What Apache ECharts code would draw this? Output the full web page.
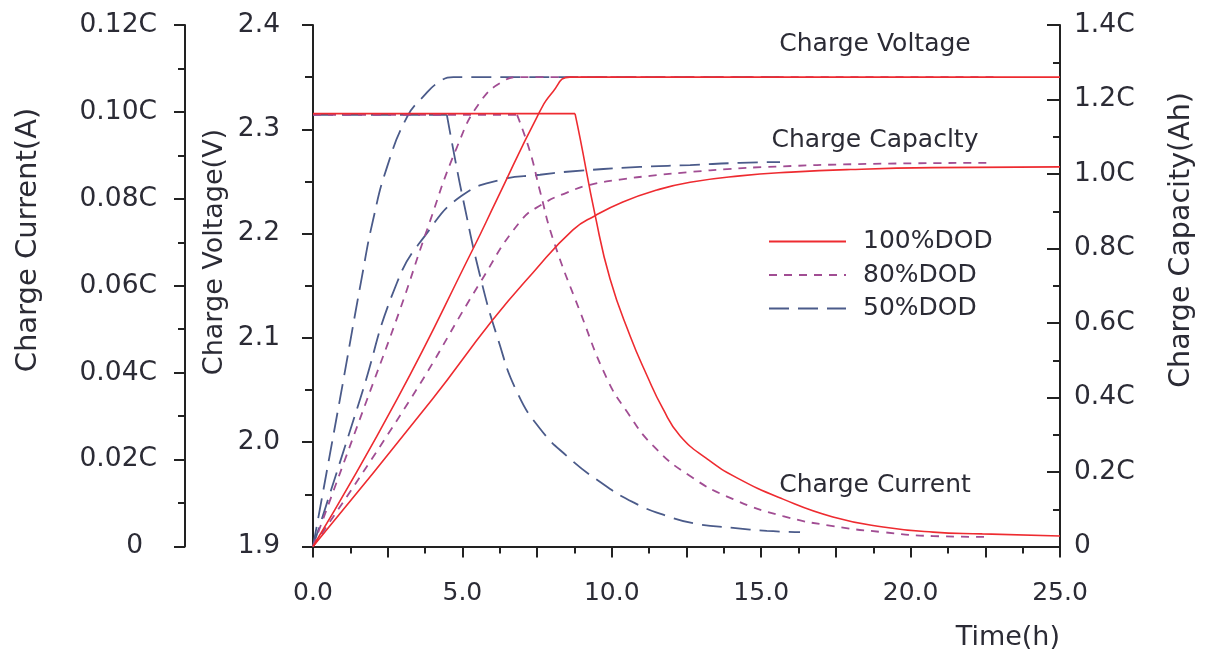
<!DOCTYPE html>
<html><head><meta charset="utf-8">
<script src="https://cdn.jsdelivr.net/npm/echarts@6/dist/echarts.min.js"></script>
<style>html,body{margin:0;padding:0;background:#fff}#c{width:1208px;height:659px}</style>
</head><body><div id="c"></div>
<script>
// ---- data ----
const seriesNames = ['100%DOD', '80%DOD', '50%DOD'];
const annotations = ['Charge Voltage', 'Charge Capaclty', 'Charge Current'];
const axisNames = ['Charge Current(A)', 'Charge Voltage(V)', 'Charge Capacity(Ah)', 'Time(h)'];

// Charge voltage (V) vs time (h)
const voltage100 = [[0,1.9],[2.81,2.041],[5.35,2.185],[6.16,2.233],[7.5,2.312],[8.03,2.336],[8.6,2.35],[25,2.35]];
const voltage80  = [[0,1.9],[1.81,2.041],[2.91,2.127],[3.82,2.204],[4.82,2.283],[5.59,2.326],[6.36,2.346],[6.9,2.35],[22.8,2.35]];
const voltage50  = [[0,1.9],[0.9,2.041],[1.64,2.159],[2.01,2.213],[2.48,2.264],[3.15,2.312],[3.68,2.331],[4.25,2.346],[4.7,2.35],[15.6,2.35]];

// Charge current (C) vs time (h): constant part and taper part
const current100Const = [[0,0.0996],[8.77,0.0996]];
const current100 = [[8.77,0.0996],[8.94,0.0939],[9.44,0.0763],[9.94,0.0616],[10.61,0.0485],[11.18,0.0393],[11.71,0.0317],[12.28,0.0255],[13.18,0.0202],[14.19,0.0158],[15.73,0.0109],[17.4,0.0068],[19.08,0.0045],[20.75,0.0033],[22.4,0.0029],[25,0.0024]];
const current80Const = [[0,0.0993],[6.83,0.0993]];
const current80 = [[6.83,0.0993],[7.26,0.0909],[7.6,0.0817],[8.03,0.0708],[8.94,0.054],[9.84,0.0386],[10.51,0.031],[11.38,0.0232],[12.62,0.0162],[14.06,0.0109],[15.73,0.007],[17.4,0.0047],[19.08,0.0033],[20.75,0.0024],[22.6,0.0022]];
const current50Const = [[0,0.0993],[4.48,0.0993]];
const current50 = [[4.48,0.0993],[4.75,0.0893],[5.02,0.08],[5.59,0.0623],[6.2,0.0475],[6.83,0.0355],[7.6,0.0271],[8.5,0.0208],[9.6,0.0149],[10.71,0.0102],[11.85,0.007],[12.85,0.0052],[14.06,0.0043],[15.19,0.0036],[16.3,0.0033]];

// Charge capacity (C) vs time (h)
const capacity100 = [[0,0],[3.98,0.394],[5.99,0.606],[7.36,0.735],[8.7,0.85],[9.44,0.888],[10.37,0.925],[11.51,0.957],[12.62,0.978],[14.29,0.995],[16,1.005],[18,1.012],[20.75,1.017],[25,1.019]];
const capacity80  = [[0,0],[3.25,0.394],[5.59,0.708],[6.93,0.872],[7.7,0.92],[8.5,0.95],[9.27,0.971],[10.27,0.985],[11.28,0.995],[12.72,1.006],[13.86,1.013],[15.19,1.019],[18.54,1.027],[22.76,1.03]];
const capacity50  = [[0,0],[1.57,0.394],[2.81,0.708],[3.82,0.842],[4.95,0.94],[6.26,0.984],[7.6,0.998],[8.5,1.006],[10.94,1.019],[12.62,1.024],[14.29,1.03],[15.63,1.032]];

// ---- styles ----
const FONT = 'DejaVu Sans';
const TXT = '#2b2b35';
const AX = '#222222';
const colors = ['#ee2b30', '#a14d93', '#4b5b8a'];
const dashTypes = ['solid', [8, 7], [20, 9]];
const widths = [1.6, 1.8, 1.8];

function line(idx, data, yAxisIndex, smooth) {
  return {
    name: seriesNames[idx], type: 'line', data: data, yAxisIndex: yAxisIndex,
    smooth: smooth ? 0.5 : false, symbol: 'none', showSymbol: false,
    lineStyle: { color: colors[idx], width: widths[idx], type: dashTypes[idx] },
    itemStyle: { color: colors[idx] }, emphasis: { disabled: true },
    z: 3 - idx
  };
}

const series = [
  line(0, voltage100, 0, true), line(0, current100Const, 1, false), line(0, current100, 1, true), line(0, capacity100, 2, true),
  line(1, voltage80, 0, true), line(1, current80Const, 1, false), line(1, current80, 1, true), line(1, capacity80, 2, true),
  line(2, voltage50, 0, true), line(2, current50Const, 1, false), line(2, current50, 1, true), line(2, capacity50, 2, true)
];

function axisCommon(inside, tickLen, minorLen) {
  return {
    axisLine: { show: true, onZero: false, lineStyle: { color: AX, width: 2 } },
    axisTick: { show: true, inside: inside, length: tickLen, lineStyle: { color: AX, width: 2 } },
    minorTick: { show: true, splitNumber: 2, length: minorLen, lineStyle: { color: AX, width: 2 } },
    splitLine: { show: false }
  };
}

const labelStyle = { fontFamily: FONT, fontSize: 26.5, color: TXT };

function txt(x, y, text, size, rot, align) {
  return { type: 'text', x: x, y: y, rotation: rot, silent: true,
    style: { text: text, font: size + 'px "' + FONT + '"', fill: TXT,
      align: align, verticalAlign: 'middle', textAlign: align, textVerticalAlign: 'middle' } };
}

const option = {
  animation: false,
  backgroundColor: '#ffffff',
  grid: { left: 313, right: 148, top: 25, bottom: 112.5, containLabel: false },
  legend: {
    orient: 'vertical', left: 768, top: 229, padding: 0, itemWidth: 77, itemHeight: 14, itemGap: 8.5,
    selectedMode: false, data: seriesNames,
    itemStyle: { opacity: 0, color: 'rgba(0,0,0,0)', borderWidth: 0 },
    textStyle: { fontFamily: FONT, fontSize: 25, color: TXT, lineHeight: 24, padding: [0, 0, 0, 12] }
  },
  xAxis: Object.assign({
    type: 'value', min: 0, max: 25, interval: 2.5,
    axisLabel: { margin: 34, fontSize: 25, fontFamily: FONT, color: TXT,
      formatter: v => (Math.abs(v % 5) < 1e-6 ? v.toFixed(1) : '') }
  }, axisCommon(false, 11, 7)),
  yAxis: [
    Object.assign({
      type: 'value', min: 1.9, max: 2.4, interval: 0.1, position: 'left', offset: 0,
      axisLabel: Object.assign({ margin: 33, formatter: v => v.toFixed(1) }, labelStyle)
    }, axisCommon(false, 11, 8)),
    Object.assign({
      type: 'value', min: 0, max: 0.12, interval: 0.02, position: 'left', offset: 128,
      axisLabel: Object.assign({ margin: 28,
        formatter: v => (Math.abs(v) < 1e-9 ? '{z|0}' : v.toFixed(2) + 'C'),
        rich: { z: { fontFamily: FONT, fontSize: 26.5, color: TXT, padding: [0, 14, 0, 0] } } }, labelStyle)
    }, axisCommon(false, 11, 7)),
    Object.assign({
      type: 'value', min: 0, max: 1.4, interval: 0.2, position: 'right', offset: 0,
      axisLabel: Object.assign({ margin: 14,
        formatter: v => (Math.abs(v) < 1e-9 ? '0' : v.toFixed(1) + 'C') }, labelStyle)
    }, axisCommon(true, 13, 7))
  ],
  graphic: [
    txt(28, 240, axisNames[0], 29, Math.PI / 2, 'center'),
    txt(215, 252, axisNames[1], 27, Math.PI / 2, 'center'),
    txt(1182, 240, axisNames[2], 28.5, Math.PI / 2, 'center'),
    txt(1060, 638, axisNames[3], 27, 0, 'right'),
    txt(875, 44, annotations[0], 25, 0, 'center'),
    txt(875, 140, annotations[1], 25, 0, 'center'),
    txt(875, 485, annotations[2], 25, 0, 'center')
  ],
  series: series
};

const chart = echarts.init(document.getElementById('c'), null, { renderer: 'canvas' });
chart.setOption(option);
</script>
</body></html>
